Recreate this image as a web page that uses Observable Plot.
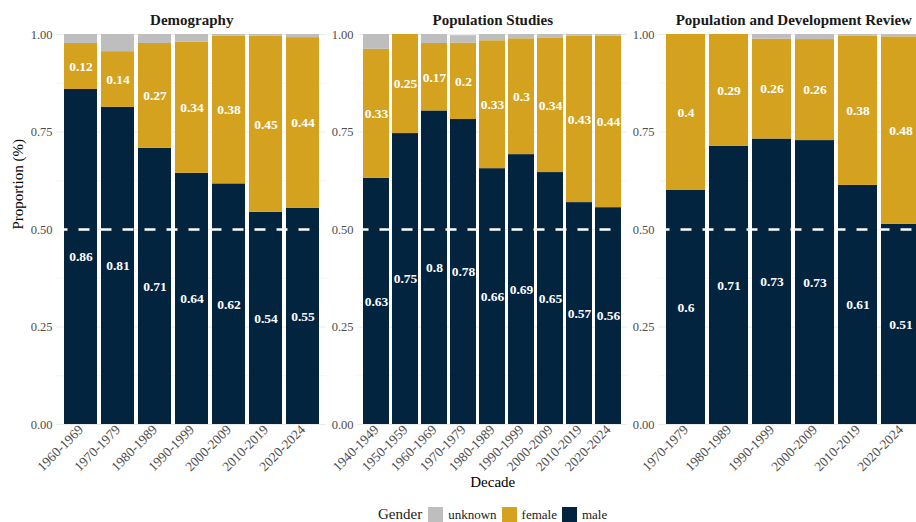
<!DOCTYPE html>
<html>
<head>
<meta charset="utf-8">
<script src="https://cdn.jsdelivr.net/npm/d3@7"></script>
<script src="https://cdn.jsdelivr.net/npm/@observablehq/plot@0.6"></script>
<style>
  html, body { margin: 0; padding: 0; background: white; }
  #wrap { position: relative; width: 916px; height: 522px; overflow: hidden; background: white; font-family: 'Liberation Serif', 'Times New Roman', serif; }
  #wrap svg { position: absolute; top: 0; }
  #wrap svg text { font-family: 'Liberation Serif', 'Times New Roman', serif !important; }
  #legend { position: absolute; left: 378px; top: 507px; height: 15px; display: flex; align-items: center; font-family: 'Liberation Serif', 'Times New Roman', serif; color: #1a1a1a; white-space: nowrap; }
  #legend span { font-family: 'Liberation Serif', 'Times New Roman', serif; }
  #legend .key { width: 15px; height: 15px; display: inline-block; }
</style>
</head>
<body>
<div id="wrap"></div>
<script>
// ---- data ----
const genders = ["unknown", "female", "male"];
const genderColors = ["#BEBEBE", "#D4A21F", "#03243F"];
const stackOrder = ["male", "female", "unknown"];

const yTicks = [0, 0.25, 0.5, 0.75, 1];
const yMinorTicks = [0.125, 0.375, 0.625, 0.875];
const refLine = [0.5];

const demTitle = "Demography";
const demDecades = ["1960-1969", "1970-1979", "1980-1989", "1990-1999", "2000-2009", "2010-2019", "2020-2024"];
const demMale    = [0.859, 0.813, 0.708, 0.644, 0.617, 0.544, 0.554];
const demFemale  = [0.118, 0.143, 0.269, 0.336, 0.379, 0.452, 0.438];
const demUnknown = [0.023, 0.044, 0.023, 0.020, 0.004, 0.004, 0.008];

const psTitle = "Population Studies";
const psDecades = ["1940-1949", "1950-1959", "1960-1969", "1970-1979", "1980-1989", "1990-1999", "2000-2009", "2010-2019", "2020-2024"];
const psMale    = [0.631, 0.746, 0.804, 0.782, 0.656, 0.692, 0.646, 0.569, 0.556];
const psFemale  = [0.331, 0.254, 0.173, 0.196, 0.328, 0.297, 0.344, 0.427, 0.440];
const psUnknown = [0.038, 0.000, 0.023, 0.019, 0.016, 0.011, 0.010, 0.004, 0.004];

const pdrTitle = "Population and Development Review";
const pdrDecades = ["1970-1979", "1980-1989", "1990-1999", "2000-2009", "2010-2019", "2020-2024"];
const pdrMale    = [0.600, 0.713, 0.732, 0.728, 0.613, 0.513];
const pdrFemale  = [0.400, 0.287, 0.256, 0.259, 0.383, 0.481];
const pdrUnknown = [0.000, 0.000, 0.012, 0.013, 0.004, 0.006];

const yTitle = "Proportion (%)";
const xTitle = "Decade";
const legendTitle = "Gender";

// ---- layout ----
const FONT = "'Liberation Serif', 'Times New Roman', serif";
const panelW = 269.5;
const mLeft = 56.5;
const panelLefts = [56.5, 357.5, 658.5];

const fmtLabel = v => String(Math.round(v * 100) / 100);

function panel(title, decades, male, female, unknown, idx) {
  const rows = [];
  decades.forEach((d, i) => {
    rows.push({decade: d, gender: "male", value: male[i]});
    rows.push({decade: d, gender: "female", value: female[i]});
    rows.push({decade: d, gender: "unknown", value: unknown[i]});
  });
  const labelled = rows.filter(r => r.gender !== "unknown");
  const extra = [];
  if (idx === 0) {
    extra.push(Plot.text([yTitle], {frameAnchor: "left", dx: -38.5, rotate: -90, fontSize: 15, fill: "#000", lineAnchor: "middle", fontFamily: FONT}));
  }
  if (idx === 1) {
    extra.push(Plot.text([xTitle], {frameAnchor: "bottom", dy: 58, fontSize: 15, fill: "#000", lineAnchor: "middle", fontFamily: FONT}));
  }
  const svg = Plot.plot({
    width: mLeft + panelW,
    height: 522,
    marginLeft: mLeft,
    marginRight: 0,
    marginTop: 34,
    marginBottom: 98,
    style: "background: transparent; overflow: visible; font-family: 'Liberation Serif', 'Times New Roman', serif;",
    x: {domain: decades, paddingInner: 0.1, paddingOuter: 0.15, label: null},
    y: {domain: [0, 1], label: null},
    color: {domain: genders, range: genderColors},
    marks: [
      Plot.ruleY(yMinorTicks, {stroke: "#ededed", strokeWidth: 0.6}),
      Plot.ruleY(yTicks, {stroke: "#ebebeb", strokeWidth: 1.1}),
      Plot.ruleX(decades, {x: d => d, stroke: "#ebebeb", strokeWidth: 1.1}),
      Plot.barY(rows, Plot.stackY({x: "decade", y: "value", fill: "gender", order: stackOrder})),
      Plot.text(labelled, Plot.stackY({x: "decade", y: "value", z: "gender", order: stackOrder,
        text: d => fmtLabel(d.value), fill: "white", fontWeight: "bold", fontSize: 13.5, fontFamily: FONT})),
      Plot.ruleY(refLine, {stroke: "white", strokeWidth: 2.7, strokeDasharray: "11,11"}),
      Plot.axisY({ticks: yTicks, tickFormat: d3.format(".2f"), tickSize: 0, tickPadding: 4.5, fontSize: 12.5, color: "#4d4d4d", label: null, fontFamily: FONT}),
      Plot.axisX({tickRotate: -45, tickSize: 0, tickPadding: 3, fontSize: 13.5, color: "#4d4d4d", label: null, fontFamily: FONT}),
      Plot.text([title], {frameAnchor: "top", dy: -14, lineAnchor: "middle", fontWeight: "bold", fontSize: 15, fill: "#1a1a1a", fontFamily: FONT}),
      ...extra
    ]
  });
  svg.style.left = (panelLefts[idx] - mLeft) + "px";
  return svg;
}

const wrap = document.getElementById("wrap");
wrap.appendChild(panel(demTitle, demDecades, demMale, demFemale, demUnknown, 0));
wrap.appendChild(panel(psTitle, psDecades, psMale, psFemale, psUnknown, 1));
wrap.appendChild(panel(pdrTitle, pdrDecades, pdrMale, pdrFemale, pdrUnknown, 2));

// legend
const legend = document.createElement("div");
legend.id = "legend";
const t = document.createElement("span");
t.textContent = legendTitle;
t.style.fontSize = "15px";
t.style.marginRight = "6px";
legend.appendChild(t);
genders.forEach((g, i) => {
  const k = document.createElement("span");
  k.className = "key";
  k.style.background = genderColors[i];
  k.style.marginRight = "5px";
  legend.appendChild(k);
  const l = document.createElement("span");
  l.textContent = g;
  l.style.fontSize = "13px";
  l.style.marginRight = "5px";
  legend.appendChild(l);
});
wrap.appendChild(legend);
</script>
</body>
</html>
